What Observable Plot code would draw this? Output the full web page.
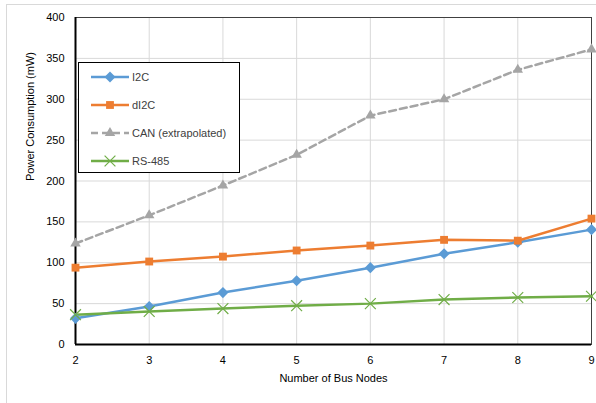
<!DOCTYPE html>
<html>
<head>
<meta charset="utf-8">
<script src="https://cdn.jsdelivr.net/npm/d3@7"></script>
<script src="https://cdn.jsdelivr.net/npm/@observablehq/plot@0.6"></script>
<style>
  html, body { margin: 0; padding: 0; background: #fff; }
  #wrap { position: relative; width: 596px; height: 403px; font-family: "Liberation Sans", Arial, sans-serif; }
  #outer { position: absolute; left: 6px; top: 4px; width: 600px; height: 410px; border: 1px solid #d9d9d9; box-sizing: border-box; }
  #legend { position: absolute; left: 78px; top: 62px; width: 162px; height: 111px; border: 1px solid #000; background: #fff; box-sizing: border-box; font-size: 11px; color: #404040; }
  .item { position: absolute; left: 12px; display: flex; align-items: center; }
  .item span { margin-left: 3px; }
</style>
</head>
<body>
<div id="wrap">
  <div id="outer"></div>
  <div id="chart"></div>
  <div id="legend"></div>
</div>
<script>
const nodes = [2, 3, 4, 5, 6, 7, 8, 9];
const i2c   = [32, 46.5, 63.5, 78, 94, 111, 125, 140.5];
const di2c  = [94, 101.5, 107.5, 115, 121, 128, 127, 154];
const can   = [123.5, 158, 194.5, 232, 280, 300, 336, 361];
const rs485 = [36.5, 40.5, 44, 47.5, 50, 55, 57.5, 59];
const seriesNames = ["I2C", "dI2C", "CAN (extrapolated)", "RS-485"];
const seriesColors = ["#5B9BD5", "#ED7D31", "#A5A5A5", "#70AD47"];
const seriesSymbols = ["diamond2", "square2", "triangle2", "times"];
const yTicks = [0, 50, 100, 150, 200, 250, 300, 350, 400];

const allValues = [i2c, di2c, can, rs485];
const rows = [];
allValues.forEach((vals, s) => vals.forEach((v, i) => rows.push({series: seriesNames[s], x: nodes[i], y: v})));
const dashed = "CAN (extrapolated)";

const colorScale = {domain: seriesNames, range: seriesColors};
const symbolScale = {domain: seriesNames, range: seriesSymbols};

const chart = Plot.plot({
  width: 596,
  height: 403,
  marginLeft: 75,
  marginRight: 5,
  marginTop: 17,
  marginBottom: 59,
  style: {fontFamily: "Liberation Sans, Arial, sans-serif", fontSize: "11px", color: "#000", background: "transparent"},
  x: {domain: [2, 9], label: null},
  y: {domain: [0, 400], label: null},
  color: colorScale,
  symbol: symbolScale,
  marks: [
    Plot.gridX(nodes, {stroke: "#d9d9d9", strokeOpacity: 1}),
    Plot.gridY(yTicks, {stroke: "#d9d9d9", strokeOpacity: 1}),
    Plot.axisX({ticks: nodes, tickFormat: d3.format("d"), tickSize: 0, tickPadding: 12, fill: "#000", label: null}),
    Plot.axisY({ticks: yTicks, tickFormat: d3.format("d"), tickSize: 0, tickPadding: 11, fill: "#000", label: null}),
    Plot.frame({stroke: "#404040", strokeWidth: 1}),
    Plot.ruleX([2], {stroke: "#000", strokeWidth: 2}),
    Plot.ruleY([0], {stroke: "#000", strokeWidth: 2}),
    Plot.line(rows.filter(d => d.series !== dashed), {x: "x", y: "y", z: "series", stroke: "series", strokeWidth: 2.5}),
    Plot.line(rows.filter(d => d.series === dashed), {x: "x", y: "y", stroke: "series", strokeWidth: 2.5, strokeDasharray: "7,4"}),
    Plot.dot(rows.filter(d => d.series !== "RS-485"), {x: "x", y: "y", symbol: "series", fill: "series", r: 5, stroke: "none"}),
    Plot.dot(rows.filter(d => d.series === "RS-485"), {x: "x", y: "y", symbol: "series", stroke: "series", r: 5, strokeWidth: 1.2}),
    Plot.text(["Number of Bus Nodes"], {frameAnchor: "bottom", dy: 37, fill: "#000", fontSize: 11}),
    Plot.text(["Power Consumption (mW)"], {frameAnchor: "left", dx: -45, rotate: -90, fill: "#000", fontSize: 11})
  ]
});
document.getElementById("chart").appendChild(chart);

// legend
const legend = document.getElementById("legend");
const legendY = [9, 37, 65, 93];
seriesNames.forEach((name, i) => {
  const item = document.createElement("div");
  item.className = "item";
  item.style.top = (legendY[i] - 1) + "px";
  const sym = d3.create("svg").attr("width", 38).attr("height", 12);
  sym.append("line").attr("x1", 0).attr("x2", 38).attr("y1", 6).attr("y2", 6)
    .attr("stroke", seriesColors[i]).attr("stroke-width", 2.5)
    .attr("stroke-dasharray", i === 2 ? "7,4" : null);
  const symType = [d3.symbolDiamond2, d3.symbolSquare2, d3.symbolTriangle2, d3.symbolTimes][i];
  const p = d3.symbol(symType, 78)();
  sym.append("path").attr("d", p).attr("transform", "translate(19,6)")
    .attr("fill", i === 3 ? "none" : seriesColors[i])
    .attr("stroke", i === 3 ? seriesColors[i] : "none").attr("stroke-width", 1.2);
  item.appendChild(sym.node());
  const t = document.createElement("span");
  t.textContent = name;
  item.appendChild(t);
  legend.appendChild(item);
});
</script>
</body>
</html>
